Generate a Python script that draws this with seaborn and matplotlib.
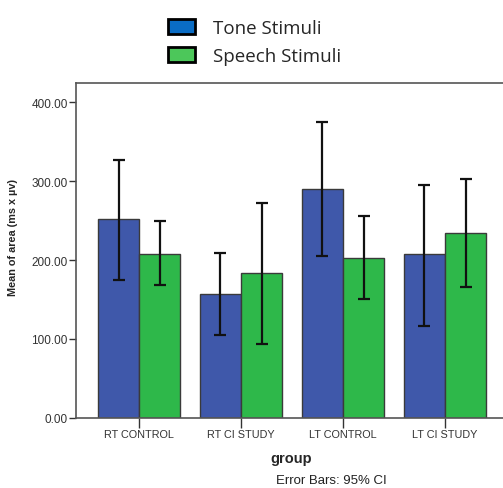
import numpy as np
import pandas as pd
import matplotlib
matplotlib.use("Agg")
import matplotlib.pyplot as plt
import seaborn as sns
from matplotlib.patches import Patch

groups = ["RT CONTROL", "RT CI STUDY", "LT CONTROL", "LT CI STUDY"]
stimuli = ["Tone Stimuli", "Speech Stimuli"]
tone_mean = [252, 157, 290, 207]
tone_lo = [175, 104.5, 205.5, 116.5]
tone_hi = [327, 208.5, 374.5, 295.5]
speech_mean = [208, 183, 202, 234]
speech_lo = [168, 93.5, 150, 165.5]
speech_hi = [250, 272.5, 256, 302.5]

df = pd.DataFrame({
    "group": groups * 2,
    "stim": [stimuli[0]] * 4 + [stimuli[1]] * 4,
    "mean": tone_mean + speech_mean,
    "lo": tone_lo + speech_lo,
    "hi": tone_hi + speech_hi,
})

sns.set_style("white")
plt.rcParams['font.family'] = ['Liberation Sans', 'DejaVu Sans']

W, H = 503, 489
fig = plt.figure(figsize=(W / 100, H / 100), dpi=100)
ax = fig.add_axes([76 / W, (H - 418.7) / H, (W - 76) / W, (418.7 - 84) / H])

bar_cols = ["#3F58AA", "#2EB84A"]
sns.barplot(data=df, x="group", y="mean", hue="stim", order=groups, hue_order=stimuli,
            palette=bar_cols, errorbar=None, width=0.81, edgecolor="#3a3a3a",
            linewidth=1.0, saturation=1, ax=ax, legend=False)

# error bars from the CI columns, placed at the bar centres
for i, s in enumerate(stimuli):
    sub = df[df["stim"] == s].set_index("group").loc[groups]
    bars = ax.containers[i]
    xs = [b.get_x() + b.get_width() / 2 for b in bars]
    ax.errorbar(xs, sub["mean"], yerr=[sub["mean"] - sub["lo"], sub["hi"] - sub["mean"]],
                fmt="none", ecolor="#111111", elinewidth=1.6, capsize=4, capthick=1.6)

ax.set_xlim(-0.62, 3.57)
ax.set_ylim(0, 424.5)
ax.set_yticks([0, 100, 200, 300, 400])
ax.set_yticklabels([f"{v:.2f}" for v in [0, 100, 200, 300, 400]])
ax.tick_params(axis="both", direction="out", length=5, width=1, color="#333333",
               labelcolor="#333333", left=True, bottom=True, pad=1)
ax.tick_params(axis="y", labelsize=8.5)
ax.tick_params(axis="x", length=7, labelsize=7.8, pad=1)
for side in ["left", "bottom", "top"]:
    ax.spines[side].set_color("#555555")
    ax.spines[side].set_linewidth(1.2)
ax.spines["right"].set_visible(False)

ax.set_xlabel("group", fontsize=10.5, fontweight="bold")
ax.xaxis.set_label_coords((291 - 76) / (W - 76), -(452 - 418.7) / (418.7 - 84))
ax.set_ylabel("Mean of area (ms x µv)", fontsize=7.8, fontweight="bold")
ax.yaxis.set_label_coords(-(76 - 18) / (W - 76), (418.7 - 237) / (418.7 - 84))

fig.text(331 / W, 1 - 481 / H, "Error Bars: 95% CI", fontsize=9.5, ha="center", va="center",
         color="#222222")

handles = [Patch(facecolor="#0A6CC4", edgecolor="black", linewidth=2),
           Patch(facecolor="#4CC75A", edgecolor="black", linewidth=2)]
fig.legend(handles, stimuli, loc="upper left", bbox_to_anchor=(151 / W, 1 - 3 / H),
           frameon=False, handlelength=1.45, handleheight=0.9,
           handletextpad=0.95, labelspacing=0.5,
           prop={"family": "Open Sans", "size": 13.5})

fig.savefig("out.png", dpi=100)
